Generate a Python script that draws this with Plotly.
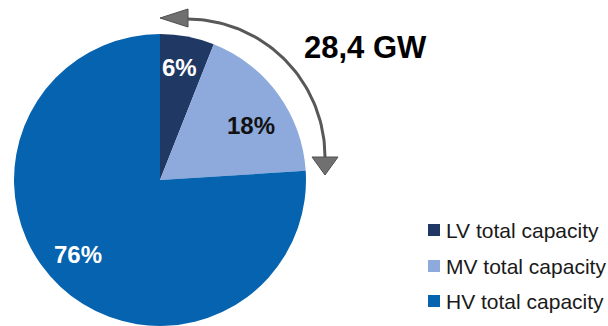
import numpy as np
import plotly.graph_objects as go

# Capacity split by voltage level
categories = ["LV total capacity", "MV total capacity", "HV total capacity"]
shares = [6, 18, 76]
colors = ["#1F3864", "#8EA9DB", "#0563B0"]
label_colors = ["white", "#111111", "white"]
total_label = "28,4 GW"

W, H = 608, 326
FONT = "Liberation Sans, Arial, sans-serif"

# Pie geometry in pixels
cx, cy, r = 160, 180, 146

fig = go.Figure()

fig.add_trace(go.Pie(
    labels=categories,
    values=shares,
    marker=dict(colors=colors, line=dict(width=0)),
    sort=False,
    direction="clockwise",
    rotation=0,
    textinfo="none",
    hoverinfo="label+percent",
    showlegend=False,
    domain=dict(x=[(cx - r) / W, (cx + r) / W], y=[0, 2 * r / H]),
))

# Percentage labels placed near each slice's bisector
label_radius = [0.78, 0.725, 0.76]
label_turn = [-0.7, 5.3, 4.4]  # degrees, clockwise nudge off the bisector
annotations = []
start = 0.0
total = sum(shares)
for val, col, lr, dt in zip(shares, label_colors, label_radius, label_turn):
    mid = np.deg2rad((start + val / 2) / total * 360 + dt)
    start += val
    lx = cx + lr * r * np.sin(mid)
    ly = cy - lr * r * np.cos(mid)
    annotations.append(dict(
        x=lx, y=ly, xref="x", yref="y", text=f"<b>{val}%</b>", showarrow=False,
        font=dict(family=FONT, size=24, color=col),
    ))

# Total capacity caption
annotations.append(dict(
    x=365, y=47, xref="x", yref="y", text=f"<b>{total_label}</b>", showarrow=False,
    font=dict(family=FONT, size=31, color="#000000"),
))

# Curved double arrow spanning the LV+MV share
acx, acy, ar = 187, 157, 138
t = np.linspace(np.pi / 2, 0, 60)
arc_x = acx + ar * np.cos(t)
arc_y = acy - ar * np.sin(t)
fig.add_trace(go.Scatter(
    x=arc_x, y=arc_y, mode="lines",
    line=dict(color="#585858", width=3), hoverinfo="skip", showlegend=False,
    xaxis="x", yaxis="y",
))
shapes = [
    dict(type="path", xref="x", yref="y",
         path="M 160 18 L 188 9 L 188 27 Z",
         fillcolor="#707070", line=dict(color="#505050", width=1)),
    dict(type="path", xref="x", yref="y",
         path="M 325 175 L 312 157 L 338 157 Z",
         fillcolor="#707070", line=dict(color="#505050", width=1)),
]

# Legend drawn as swatches with labels
legend_y = [230, 266, 301]
for name, col, ly in zip(categories, colors, legend_y):
    shapes.append(dict(type="rect", xref="x", yref="y",
                       x0=428, x1=440, y0=ly - 6, y1=ly + 6,
                       fillcolor=col, line=dict(width=0)))
    annotations.append(dict(
        x=444, y=ly, xref="x", yref="y", text=name, showarrow=False,
        xanchor="left", yanchor="middle",
        font=dict(family=FONT, size=21, color="#1A1A1A"),
    ))

fig.update_layout(
    width=W, height=H,
    margin=dict(l=0, r=0, t=0, b=0),
    paper_bgcolor="white", plot_bgcolor="rgba(0,0,0,0)",
    xaxis=dict(range=[0, W], visible=False, domain=[0, 1], fixedrange=True),
    yaxis=dict(range=[H, 0], visible=False, domain=[0, 1], fixedrange=True),
    shapes=shapes,
    annotations=annotations,
    showlegend=False,
)

fig.write_html("out.html")
